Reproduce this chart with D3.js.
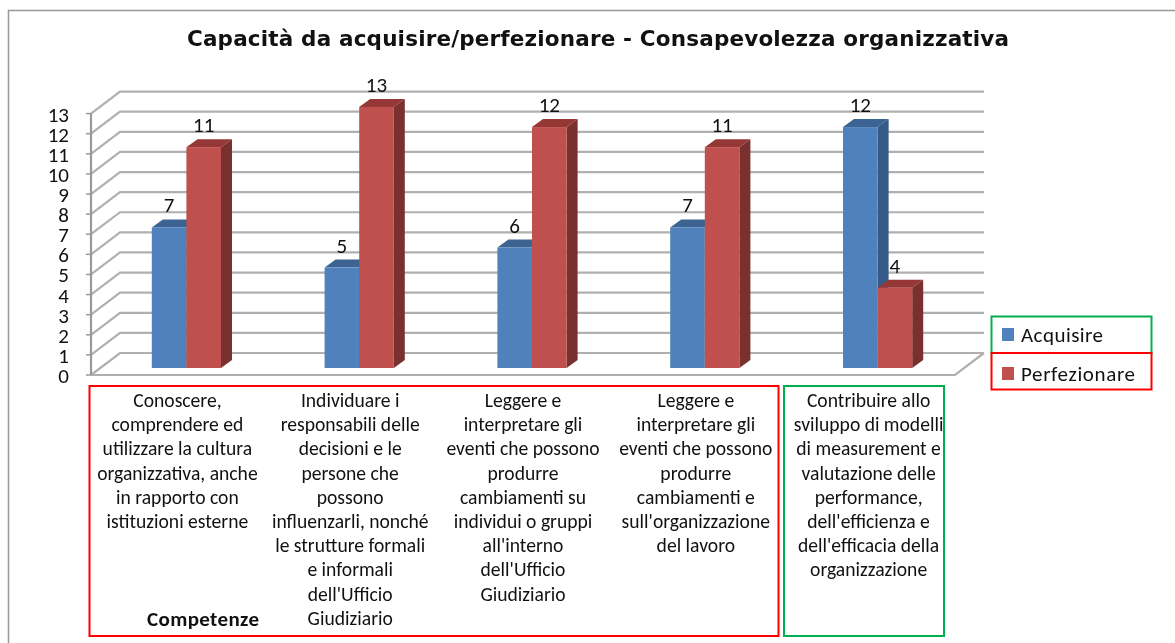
<!DOCTYPE html>
<html><head><meta charset="utf-8">
<script src="https://cdn.jsdelivr.net/npm/d3@7/dist/d3.min.js"></script>
<style>html,body{margin:0;padding:0;background:#fff}svg{display:block;filter:blur(0.35px)}text{font-family:Carlito,Lato,"Open Sans",sans-serif;fill:#111}</style>
</head><body><svg id="c" width="1175" height="643"></svg>
<script>
const title = "Capacità da acquisire/perfezionare - Consapevolezza organizzativa";
const seriesNames = ["Acquisire", "Perfezionare"];
const acquisire = [7, 5, 6, 7, 12];
const perfezionare = [11, 13, 12, 11, 4];
const categoryLabels = [
 ["Conoscere,","comprendere ed","utilizzare la cultura","organizzativa, anche","in rapporto  con","istituzioni esterne"],
 ["Individuare i","responsabili delle","decisioni e le","persone che","possono","influenzarli, nonché","le strutture formali","e informali","dell'Ufficio","Giudiziario"],
 ["Leggere e","interpretare gli","eventi che possono","produrre","cambiamenti su","individui o gruppi","all'interno","dell'Ufficio","Giudiziario"],
 ["Leggere e","interpretare gli","eventi che possono","produrre","cambiamenti e","sull'organizzazione","del lavoro"],
 ["Contribuire allo","sviluppo di modelli","di measurement e","valutazione delle","performance,","dell'efficienza e","dell'efficacia della","organizzazione"]
];
const ticks = d3.range(0, 14);
const blue="#4f81bd", blueTop="#3b6493", blueSide="#345a85", red="#c0504d", redTop="#953735", redSide="#7a302e";
const svg = d3.select("#c");
const y = d3.scaleLinear().domain([0,13]).range([375,113.6]);
const barY = d3.scaleLinear().domain([0,13]).range([368,107]);
const x = d3.scaleBand().domain(d3.range(5)).range([100,964]);
const dx=29, dy=-22, bx=11, by=-8, bw=34.6;
const barX = i => x(i)+(x.step()-2*bw)/2;

// outer frame
svg.append("path").attr("d","M8.5,643V10.5H1175").attr("fill","none").attr("stroke","#999").attr("stroke-width",1.5);
svg.append("text").attr("x",598).attr("y",46).attr("text-anchor","middle")
 .style("font-family","'DejaVu Sans'").style("font-weight",700).style("font-size","21.5px").attr("textLength",822).text(title);

// walls
const gx0=91, gxF=955;
const g=svg.append("g").attr("fill","none").attr("stroke","#b0b0b0").attr("stroke-width",2.2);
ticks.forEach(t=>{
  g.append("path").attr("d",`M${gx0},${y(t)}l${dx},${dy}H${gxF+dx}`);
});
g.append("path").attr("d",`M${gx0},${y(0)}H${gxF}l${dx},${dy}`);
g.append("path").attr("d",`M${gx0},${y(0)}V${y(13)}`).attr("stroke","#999");
ticks.forEach(t=>{
  svg.append("line").attr("x1",gx0-5).attr("x2",gx0).attr("y1",y(t)).attr("y2",y(t)).attr("stroke","#999").attr("stroke-width",1.5);
  svg.append("text").attr("x",69).attr("y",y(t)+8).attr("text-anchor","end").style("font-size","21px").text(t);
});

// bars
function bar(v,x0,f,top,side){
  const t=barY(v), b=barY(0);
  svg.append("path").attr("d",`M${x0},${t}l${bx},${by}h${bw}l${-bx},${-by}z`).attr("fill",top);
  svg.append("path").attr("d",`M${x0+bw},${t}l${bx},${by}V${b+by}l${-bx},${-by}z`).attr("fill",side);
  svg.append("rect").attr("x",x0).attr("y",t).attr("width",bw).attr("height",b-t).attr("fill",f);
}
d3.range(5).forEach(i=>{
  bar(acquisire[i],barX(i),blue,blueTop,blueSide);
  bar(perfezionare[i],barX(i)+bw,red,redTop,redSide);
});
d3.range(5).forEach(i=>{
  [[acquisire[i],barX(i)],[perfezionare[i],barX(i)+bw]].forEach(([v,xx])=>{
    svg.append("text").attr("x",xx+bw/2).attr("y",barY(v)-15).attr("text-anchor","middle").style("font-size","21px").text(v);
  });
});

// category labels
categoryLabels.forEach((lines,i)=>{
  lines.forEach((s,j)=>{
    svg.append("text").attr("x",x(i)+x.step()/2-9).attr("y",407+j*24.2).attr("text-anchor","middle")
      .style("font-size","19.6px").text(s);
  });
});
svg.append("text").attr("x",147).attr("y",626).style("font-weight",700).style("font-size","21px").attr("textLength",112).text("Competenze");

// annotation boxes
const boxes=[[89.5,386,689,250,"#ff0000"],[784,386,160,250,"#00b050"],[991.5,316.5,160,36.5,"#00b050"],[991.5,353,160,36.5,"#ff0000"]];
svg.selectAll("rect.b").data(boxes).join("rect").attr("class","b").attr("x",d=>d[0]).attr("y",d=>d[1]).attr("width",d=>d[2]).attr("height",d=>d[3]).attr("fill","none").attr("stroke",d=>d[4]).attr("stroke-width",2);

// legend
seriesNames.forEach((n,i)=>{
  const yy=335+i*39;
  svg.append("rect").attr("x",1002).attr("y",yy-7).attr("width",12).attr("height",13).attr("fill",i?red:blue);
  svg.append("text").attr("x",1021).attr("y",yy+6.5).style("font-size","21px").attr("textLength",i?114:82).text(n);
});
</script></body></html>
